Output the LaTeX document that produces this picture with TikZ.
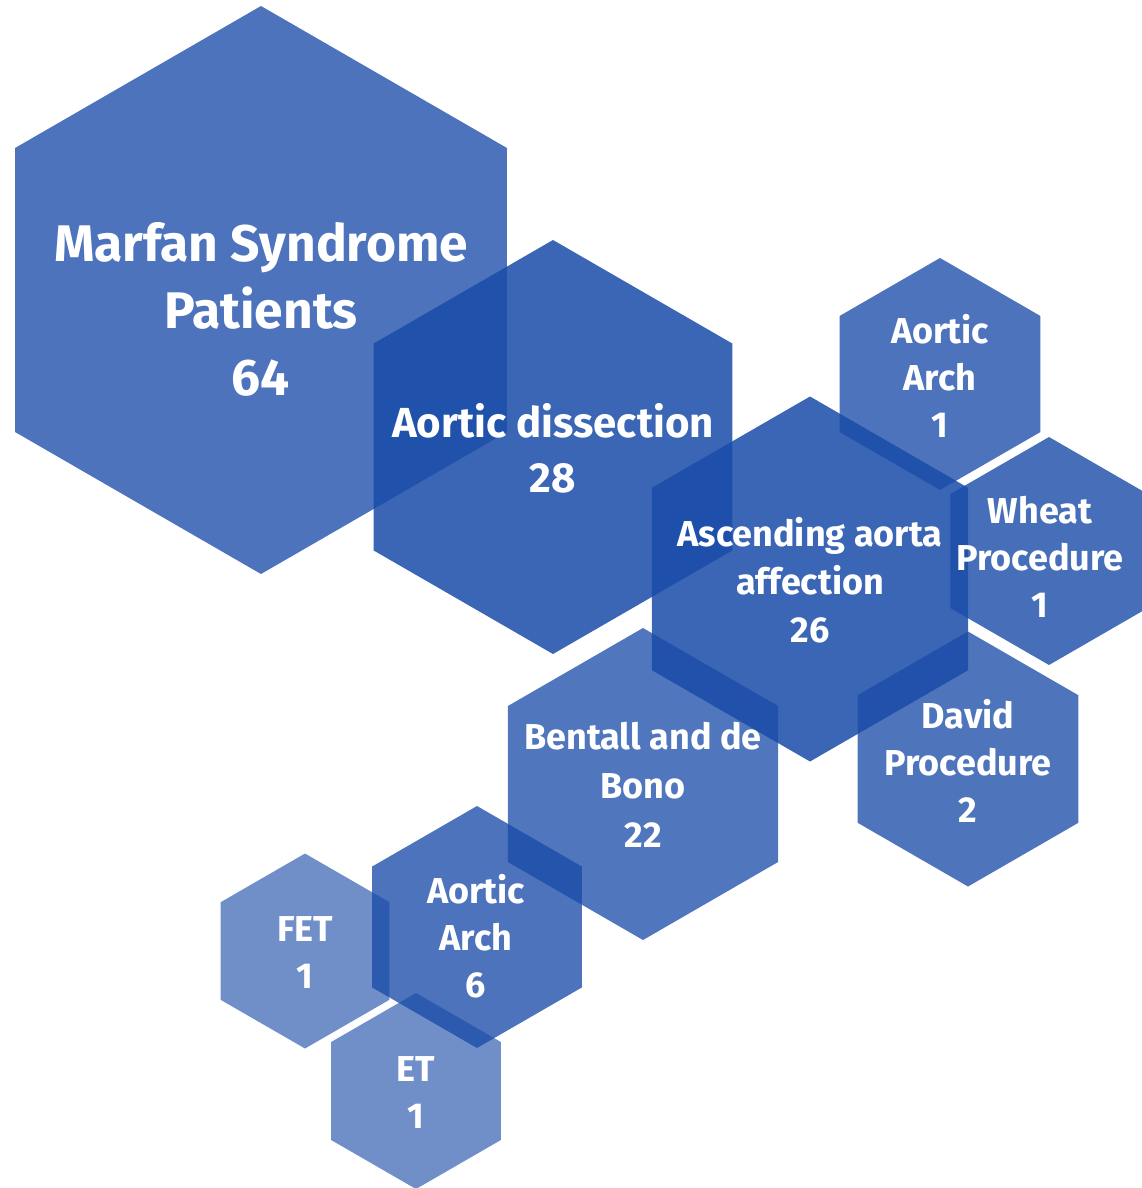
\documentclass[tikz,border=0pt]{standalone}
\usepackage{fontspec}
\setmainfont{Fira Sans}
\usetikzlibrary{shapes.geometric}
\definecolor{hexblue}{RGB}{25,75,168}

\begin{document}
\begin{tikzpicture}[x=1pt, y=-1pt,
    hexa/.style={regular polygon, regular polygon sides=6, shape border rotate=30,
        inner sep=0pt, outer sep=0pt, draw=none, fill=hexblue},
    lbl/.style={text=white, align=center}]
    \useasboundingbox (0,0) rectangle (1142,1188);
    \clip (0,0) rectangle (1142,1188);

    % Hexagons: name/x/y/diameter/opacity
    \foreach \n/\x/\y/\d/\o in {marfan/261/290/568/0.78, dissect/553/447/414/0.85,
        ascend/810/579/365/0.85, archA/940/374/232/0.78, wheat/1049/551/228/0.8,
        david/968/759/255/0.77, bentall/643/784/312/0.76, archB/477/927/242/0.78,
        fet/305/951/195/0.62, et/416/1091/196/0.62} {
        \node[hexa, minimum size=\d pt, fill opacity=\o] (h\n) at (\x,\y) {};
    }

    % Labels
    \node[lbl, font=\bfseries\fontsize{51.5}{67}\selectfont] (tmarfan) at (261,309) {Marfan Syndrome\\Patients\\64};
    \node[lbl, font=\bfseries\fontsize{42}{55}\selectfont] (tdissect) at (553,448) {Aortic dissection\\28};
    \node[lbl, font=\bfseries\fontsize{36}{48}\selectfont] (tascend) at (810,580) {Ascending aorta\\affection\\26};
    \node[lbl, font=\bfseries\fontsize{36}{47}\selectfont] (tarchA) at (940,376) {Aortic\\Arch\\1};
    \node[lbl, font=\bfseries\fontsize{36}{47}\selectfont] (twheat) at (1040,557) {Wheat\\Procedure\\1};
    \node[lbl, font=\bfseries\fontsize{36}{47}\selectfont] (tdavid) at (968,761) {David\\Procedure\\2};
    \node[lbl, font=\bfseries\fontsize{36}{49}\selectfont] (tbentall) at (643,785) {Bentall and de\\Bono\\22};
    \node[lbl, font=\bfseries\fontsize{36}{47}\selectfont] (tarchB) at (476,936) {Aortic\\Arch\\6};
    \node[lbl, font=\bfseries\fontsize{36}{47}\selectfont] (tfet) at (305,953) {FET\\1};
    \node[lbl, font=\bfseries\fontsize{36}{47}\selectfont] (tet) at (416,1093) {ET\\1};
\end{tikzpicture}
\end{document}
